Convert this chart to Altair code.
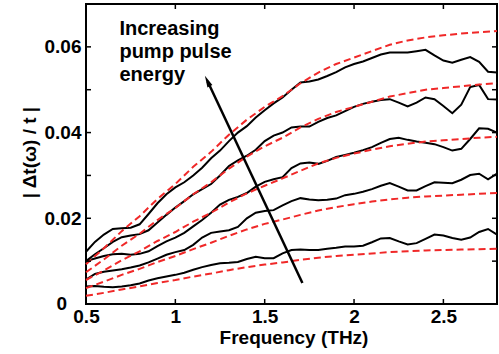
import altair as alt
import pandas as pd

# ---------------- data ----------------
freq = [0.50, 0.55, 0.60, 0.65, 0.70, 0.75, 0.80, 0.85, 0.90, 0.95,
        1.00, 1.05, 1.10, 1.15, 1.20, 1.25, 1.30, 1.35, 1.40, 1.45,
        1.50, 1.55, 1.60, 1.65, 1.70, 1.75, 1.80, 1.85, 1.90, 1.95,
        2.00, 2.05, 2.10, 2.15, 2.20, 2.25, 2.30, 2.35, 2.40, 2.45,
        2.50, 2.55, 2.60, 2.65, 2.70, 2.75, 2.80]

meas1 = [0.0041, 0.0042, 0.0040, 0.0039, 0.0041, 0.0044, 0.0048, 0.0055, 0.0060, 0.0064,
         0.0068, 0.0073, 0.0080, 0.0086, 0.0091, 0.0095, 0.0096, 0.0098, 0.0105, 0.0110,
         0.0107, 0.0107, 0.0118, 0.0126, 0.0127, 0.0126, 0.0126, 0.0129, 0.0131, 0.0134,
         0.0134, 0.0136, 0.0144, 0.0153, 0.0154, 0.0146, 0.0139, 0.0142, 0.0152, 0.0162,
         0.0160, 0.0154, 0.0150, 0.0155, 0.0168, 0.0175, 0.0162]
meas2 = [0.0057, 0.0070, 0.0075, 0.0078, 0.0081, 0.0085, 0.0090, 0.0097, 0.0106, 0.0115,
         0.0121, 0.0126, 0.0138, 0.0155, 0.0166, 0.0169, 0.0172, 0.0180, 0.0200, 0.0213,
         0.0217, 0.0219, 0.0230, 0.0240, 0.0247, 0.0244, 0.0242, 0.0243, 0.0246, 0.0254,
         0.0257, 0.0262, 0.0268, 0.0276, 0.0282, 0.0274, 0.0265, 0.0265, 0.0275, 0.0284,
         0.0283, 0.0282, 0.0290, 0.0301, 0.0304, 0.0291, 0.0304]
meas3 = [0.0100, 0.0106, 0.0112, 0.0116, 0.0117, 0.0115, 0.0117, 0.0123, 0.0135, 0.0146,
         0.0155, 0.0166, 0.0181, 0.0196, 0.0213, 0.0232, 0.0243, 0.0250, 0.0259, 0.0274,
         0.0285, 0.0291, 0.0296, 0.0317, 0.0328, 0.0330, 0.0327, 0.0334, 0.0343, 0.0348,
         0.0353, 0.0359, 0.0366, 0.0376, 0.0385, 0.0388, 0.0383, 0.0379, 0.0376, 0.0373,
         0.0366, 0.0358, 0.0362, 0.0385, 0.0410, 0.0409, 0.0400]
meas4 = [0.0100, 0.0116, 0.0130, 0.0145, 0.0156, 0.0160, 0.0163, 0.0172, 0.0190, 0.0208,
         0.0225, 0.0240, 0.0256, 0.0268, 0.0280, 0.0300, 0.0322, 0.0335, 0.0346, 0.0360,
         0.0380, 0.0393, 0.0400, 0.0412, 0.0414, 0.0414, 0.0425, 0.0434, 0.0440, 0.0450,
         0.0460, 0.0467, 0.0472, 0.0476, 0.0478, 0.0470, 0.0461, 0.0470, 0.0482, 0.0478,
         0.0462, 0.0445, 0.0465, 0.0506, 0.0511, 0.0478, 0.0477]
meas5 = [0.0122, 0.0145, 0.0162, 0.0175, 0.0177, 0.0178, 0.0186, 0.0210, 0.0235, 0.0256,
         0.0272, 0.0284, 0.0300, 0.0318, 0.0340, 0.0358, 0.0380, 0.0400, 0.0415, 0.0435,
         0.0452, 0.0468, 0.0482, 0.0500, 0.0517, 0.0519, 0.0524, 0.0532, 0.0541, 0.0552,
         0.0560, 0.0566, 0.0574, 0.0582, 0.0587, 0.0587, 0.0587, 0.0590, 0.0593, 0.0580,
         0.0568, 0.0563, 0.0570, 0.0576, 0.0565, 0.0542, 0.0540]

freq_fit = [0.5, 0.6, 0.7, 0.8, 0.9, 1.0, 1.1, 1.2, 1.3, 1.4, 1.5, 1.6,
            1.7, 1.8, 1.9, 2.0, 2.1, 2.2, 2.3, 2.4, 2.5, 2.6, 2.7, 2.8]
fit1 = [0.0019, 0.0026, 0.0034, 0.0041, 0.0049, 0.0056, 0.0064, 0.0071, 0.0079, 0.0086, 0.0092, 0.0097,
        0.0103, 0.0108, 0.0112, 0.0115, 0.0118, 0.0121, 0.0123, 0.0125, 0.0126, 0.0127, 0.0128, 0.0129]
fit2 = [0.0037, 0.0052, 0.0068, 0.0082, 0.0098, 0.0112, 0.0128, 0.0143, 0.0159, 0.0174, 0.0187, 0.0197,
        0.0208, 0.0218, 0.0226, 0.0233, 0.0239, 0.0244, 0.0248, 0.0251, 0.0253, 0.0255, 0.0257, 0.0259]
fit3 = [0.0056, 0.0078, 0.0102, 0.0123, 0.0147, 0.0168, 0.0192, 0.0213, 0.0237, 0.0258, 0.0276, 0.0293,
        0.0311, 0.0328, 0.0341, 0.0351, 0.0360, 0.0368, 0.0374, 0.0379, 0.0382, 0.0385, 0.0388, 0.0390]
fit4 = [0.0074, 0.0104, 0.0136, 0.0164, 0.0196, 0.0224, 0.0256, 0.0284, 0.0316, 0.0344, 0.0368, 0.0388,
        0.0412, 0.0432, 0.0448, 0.0460, 0.0472, 0.0484, 0.0492, 0.0500, 0.0504, 0.0508, 0.0512, 0.0515]
fit5 = [0.0093, 0.0130, 0.0170, 0.0205, 0.0245, 0.0280, 0.0320, 0.0355, 0.0395, 0.0430, 0.0460, 0.0485,
        0.0515, 0.0540, 0.0560, 0.0575, 0.0590, 0.0605, 0.0615, 0.0622, 0.0627, 0.0631, 0.0634, 0.0637]

x_ticks = [0.5, 1.0, 1.5, 2.0, 2.5]
y_ticks = [0.0, 0.01, 0.02, 0.03, 0.04, 0.05, 0.06, 0.07]
y_labels = [0.02, 0.04, 0.06]
zero_label = "0"

annotation = "Increasing\npump pulse\nenergy"
annot_pos = (0.687, 0.0628)
arrow_tail = (1.711, 0.0049)
arrow_head = (1.181, 0.0519)

# ---------------- tables ----------------
meas_df = pd.concat([pd.DataFrame({"f": freq, "v": s, "series": f"m{i}"})
                     for i, s in enumerate([meas1, meas2, meas3, meas4, meas5], 1)])
fit_df = pd.concat([pd.DataFrame({"f": freq_fit, "v": s, "series": f"r{i}"})
                    for i, s in enumerate([fit1, fit2, fit3, fit4, fit5], 1)])
xt_df = pd.DataFrame({"f": x_ticks})
yt_df = pd.DataFrame({"v": y_ticks})
zero_df = pd.DataFrame({"f": [0.5], "v": [0.0], "label": [zero_label]})
text_df = pd.DataFrame({"f": [annot_pos[0]], "v": [annot_pos[1]], "label": [annotation]})
arrow_df = pd.DataFrame({"f": [arrow_tail[0], arrow_head[0]],
                         "v": [arrow_tail[1], arrow_head[1]], "o": [0, 1]})
head_df = pd.DataFrame({"f": [arrow_head[0]], "v": [arrow_head[1]]})

FONT = "Liberation Sans"
W, H = 411, 300
xs = alt.Scale(domain=[0.5, 2.8], nice=False, zero=False)
ys = alt.Scale(domain=[0, 0.07], nice=False, zero=False)

x_axis = alt.Axis(values=x_ticks, ticks=False, domain=False, grid=False,
                  labelFont=FONT, labelFontSize=19, labelFontWeight="bold", labelColor="black",
                  labelPadding=3, labelFlush=False, labelOverlap=False,
                  labelExpr="format(datum.value, '~g')",
                  title="Frequency (THz)", titleFont=FONT, titleFontSize=19, titleFontWeight="bold",
                  titleColor="black", titleX=W / 2 + 2, titleY=39, titleBaseline="alphabetic",
                  titleAlign="center", titleAnchor="middle")
y_axis = alt.Axis(values=y_labels, ticks=False, domain=False, grid=False,
                  labelFont=FONT, labelFontSize=19, labelFontWeight="bold", labelColor="black",
                  labelPadding=5, labelFlush=False, labelOverlap=False,
                  labelExpr="format(datum.value, '.2f')",
                  title="| Δt(ω) / t |", titleFont=FONT, titleFontSize=19, titleFontWeight="bold",
                  titleColor="black", titleAngle=270, titleX=-51, titleY=148,
                  titleBaseline="alphabetic", titleAlign="center")

X = alt.X("f:Q", scale=xs, axis=x_axis)
Y = alt.Y("v:Q", scale=ys, axis=y_axis)

meas = alt.Chart(meas_df).mark_line(color="black", strokeWidth=2).encode(
    x=X, y=Y, detail="series:N")

fit = alt.Chart(fit_df).mark_line(color="#f02828", strokeWidth=2, strokeDash=[7, 4]).encode(
    x=X, y=Y, detail="series:N")

tick_style = dict(color="black", strokeWidth=1.5)
xt_bottom = alt.Chart(xt_df).mark_rule(**tick_style).encode(
    x=X, y=alt.value(H), y2=alt.value(H - 5))
xt_top = alt.Chart(xt_df).mark_rule(**tick_style).encode(
    x=X, y=alt.value(0), y2=alt.value(5))
yt_left = alt.Chart(yt_df).mark_rule(**tick_style).encode(
    y=Y, x=alt.value(0), x2=alt.value(5))
yt_right = alt.Chart(yt_df).mark_rule(**tick_style).encode(
    y=Y, x=alt.value(W - 5), x2=alt.value(W))

zero_text = alt.Chart(zero_df).mark_text(font=FONT, fontSize=19, fontWeight="bold", color="black",
                                         align="right", baseline="middle", dx=-19).encode(
    x=X, y=Y, text="label:N")

text = alt.Chart(text_df).mark_text(font=FONT, fontSize=20, fontWeight="bold", color="black",
                                    align="left", baseline="alphabetic", lineBreak="\n",
                                    lineHeight=23).encode(
    x=X, y=Y, text="label:N")

arrow = alt.Chart(arrow_df).mark_line(color="black", strokeWidth=2.5).encode(
    x=X, y=Y, order="o:Q")

head = alt.Chart(head_df).mark_point(shape="M0,-1L0.42,0.8L-0.42,0.8Z", filled=True, opacity=1,
                                     color="black", size=170, angle=334.8).encode(
    x=X, y=Y)

chart = alt.layer(meas, fit, xt_bottom, xt_top, yt_left, yt_right, arrow, head, text,
                  zero_text).properties(
    width=W, height=H,
    autosize=alt.AutoSizeParams(type="none"),
    padding={"left": 86, "top": 4, "right": 2, "bottom": 50},
    background="white",
).configure_view(stroke="black", strokeWidth=2)

chart.save("out.html", embed_options={"renderer": "svg", "actions": False})
